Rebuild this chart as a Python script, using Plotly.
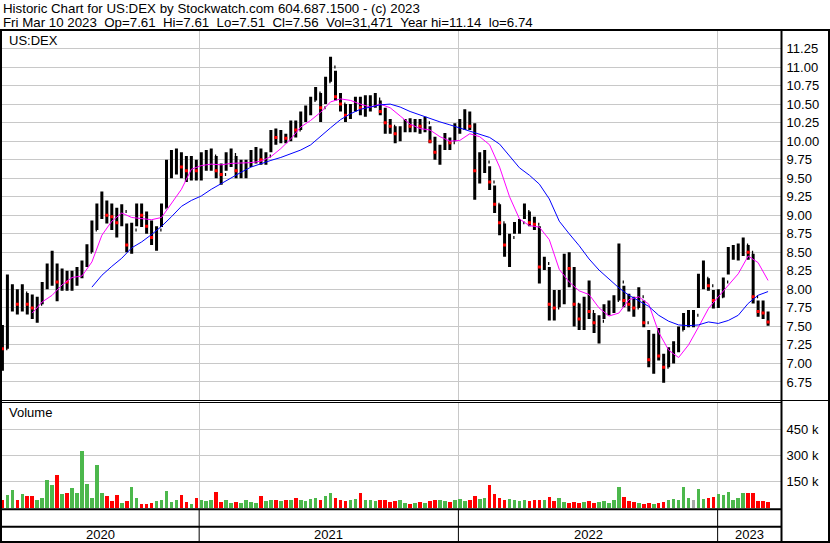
import plotly.graph_objects as go
import pandas as pd

W, H = 830, 543

# ---------------- data (weekly readings from the reference) ----------------
week_start = "2020-03-30"
n_weeks = 155
dates = pd.date_range(week_start, periods=n_weeks, freq="7D")

highs = [7.52, 8.20, 8.07, 8.00, 8.07, 7.95, 7.93, 7.90, 8.10, 8.35,
         8.52, 8.35, 8.28, 8.25, 8.25, 8.30, 8.39, 8.61, 8.93, 9.16,
         9.32, 9.20, 9.16, 9.10, 9.15, 8.89, 8.90, 9.16, 9.16, 9.05,
         8.93, 8.85, 9.16, 9.75, 9.88, 9.90, 9.85, 9.80, 9.80, 9.75,
         9.85, 9.88, 9.90, 9.80, 9.70, 9.85, 9.90, 9.80, 9.75, 9.75,
         9.88, 9.92, 9.90, 9.85, 10.15, 10.17, 10.15, 10.10, 10.28, 10.28,
         10.40, 10.48, 10.60, 10.73, 10.65, 10.87, 11.14, 10.95, 10.65, 10.50,
         10.50, 10.60, 10.60, 10.62, 10.62, 10.65, 10.55, 10.45, 10.30, 10.20,
         10.20, 10.30, 10.31, 10.30, 10.30, 10.33, 10.20, 10.06, 9.95, 10.11,
         10.05, 10.24, 10.30, 10.43, 10.40, 10.24, 9.85, 9.88, 9.66, 9.40,
         9.15, 8.89, 8.75, 8.91, 8.95, 9.16, 9.05, 8.98, 8.85, 8.44,
         8.30, 7.99, 7.99, 8.48, 8.50, 8.30, 7.81, 7.90, 8.12, 7.68,
         7.65, 7.80, 7.85, 7.92, 8.62, 8.05, 7.94, 7.90, 8.03, 7.85,
         7.45, 7.40, 7.48, 7.13, 7.22, 7.30, 7.50, 7.68, 7.72, 7.72,
         8.21, 8.39, 8.15, 7.99, 8.00, 8.16, 8.57, 8.60, 8.62, 8.70,
         8.60, 8.48, 7.85, 7.85, 7.70]

lows = [6.90, 7.20, 7.70, 7.66, 7.70, 7.66, 7.60, 7.55, 7.80, 8.00,
        8.05, 7.84, 7.98, 7.98, 7.98, 8.05, 8.15, 8.30, 8.50, 8.80,
        8.95, 8.89, 8.80, 8.70, 8.85, 8.50, 8.48, 8.85, 8.84, 8.75,
        8.60, 8.52, 8.84, 9.10, 9.50, 9.55, 9.50, 9.45, 9.47, 9.47,
        9.47, 9.60, 9.60, 9.50, 9.41, 9.60, 9.65, 9.50, 9.50, 9.50,
        9.65, 9.70, 9.68, 9.68, 9.85, 9.95, 9.97, 9.97, 10.00, 10.05,
        10.15, 10.26, 10.35, 10.55, 10.26, 10.50, 10.80, 10.55, 10.40, 10.26,
        10.30, 10.40, 10.35, 10.33, 10.40, 10.45, 10.35, 10.10, 10.10, 9.97,
        10.00, 10.12, 10.12, 10.12, 10.10, 10.12, 9.97, 9.75, 9.68, 9.88,
        9.88, 10.00, 10.10, 10.15, 10.15, 9.21, 9.43, 9.57, 9.34, 9.03,
        8.73, 8.44, 8.30, 8.75, 8.75, 8.95, 8.85, 8.80, 8.08, 8.26,
        7.58, 7.58, 7.76, 7.80, 8.03, 7.50, 7.45, 7.45, 7.60, 7.41,
        7.27, 7.60, 7.65, 7.68, 7.85, 7.76, 7.70, 7.63, 7.75, 7.49,
        6.95, 6.86, 7.04, 6.74, 6.95, 7.00, 7.15, 7.45, 7.49, 7.49,
        7.75, 8.00, 7.98, 7.74, 7.75, 7.89, 8.20, 8.40, 8.39, 8.45,
        8.40, 7.81, 7.63, 7.60, 7.51]

closes = [7.20, 7.90, 7.92, 7.80, 7.95, 7.80, 7.75, 7.80, 8.05, 8.25,
          8.30, 8.10, 8.15, 8.10, 8.15, 8.25, 8.35, 8.50, 8.80, 9.05,
          9.10, 9.00, 8.98, 8.90, 9.05, 8.60, 8.80, 9.05, 9.00, 8.85,
          8.70, 8.80, 9.10, 9.60, 9.70, 9.75, 9.65, 9.60, 9.65, 9.60,
          9.70, 9.75, 9.80, 9.60, 9.55, 9.80, 9.82, 9.60, 9.65, 9.70,
          9.80, 9.85, 9.75, 9.80, 10.10, 10.05, 10.08, 10.04, 10.20, 10.15,
          10.35, 10.40, 10.55, 10.65, 10.45, 10.80, 11.00, 10.60, 10.50, 10.35,
          10.45, 10.50, 10.45, 10.50, 10.55, 10.57, 10.40, 10.25, 10.20, 10.10,
          10.15, 10.25, 10.20, 10.25, 10.20, 10.25, 10.00, 9.85, 9.90, 10.00,
          9.98, 10.15, 10.25, 10.35, 10.20, 9.60, 9.70, 9.72, 9.45, 9.15,
          8.90, 8.60, 8.70, 8.85, 8.90, 9.05, 8.90, 8.88, 8.30, 8.35,
          7.80, 7.75, 7.90, 8.30, 8.28, 7.80, 7.60, 7.80, 7.70, 7.55,
          7.57, 7.70, 7.80, 7.85, 8.10, 7.85, 7.80, 7.75, 7.90, 7.55,
          7.05, 7.25, 7.10, 6.95, 7.10, 7.20, 7.45, 7.60, 7.65, 7.65,
          8.10, 8.15, 8.05, 7.85, 7.90, 8.10, 8.50, 8.52, 8.55, 8.60,
          8.50, 7.90, 7.70, 7.68, 7.56]

first_open = 7.35

volumes_k = [50, 74, 105, 45, 80, 70, 72, 45, 60, 160,
             131, 188, 80, 90, 116, 85, 326, 141, 60, 246,
             90, 72, 40, 75, 30, 40, 122, 60, 25, 22,
             30, 40, 45, 97, 35, 45, 75, 35, 25, 60,
             45, 40, 45, 92, 35, 45, 30, 35, 30, 45,
             35, 30, 72, 40, 50, 45, 40, 50, 45, 60,
             50, 40, 55, 60, 45, 70, 85, 60, 50, 40,
             45, 55, 90, 50, 45, 40, 50, 45, 35, 40,
             45, 30, 25, 30, 35, 30, 40, 45, 50, 40,
             35, 45, 55, 40, 50, 70, 55, 60, 135, 80,
             60, 50, 55, 45, 40, 50, 40, 45, 50, 45,
             65, 40, 60, 35, 30, 35, 30, 35, 40, 30,
             35, 40, 30, 45, 120, 65, 40, 35, 30, 25,
             30, 25, 30, 35, 45, 55, 50, 120, 60, 50,
             112, 55, 60, 65, 80, 75, 93, 50, 60, 90,
             90, 90, 40, 40, 35]

# moving averages read every second week
ma_short_dates = dates[6::2]
ma_short = [7.68, 7.83, 7.92, 8.06, 8.16, 8.18, 8.37, 8.73, 8.92, 9.03,
            8.97, 8.96, 8.94, 8.97, 9.16, 9.35, 9.62, 9.67, 9.69, 9.68,
            9.70, 9.70, 9.71, 9.73, 9.79, 9.90, 10.03, 10.19, 10.28, 10.39,
            10.53, 10.57, 10.55, 10.50, 10.46, 10.50, 10.45,
            10.34, 10.23, 10.17, 10.15, 10.06, 10.00, 10.01, 10.10, 10.06, 9.95,
            9.65, 9.25, 8.95, 8.86, 8.84, 8.67, 8.27, 8.10, 7.98, 7.93,
            7.75, 7.64, 7.68, 7.86, 7.90, 7.80, 7.42, 7.18, 7.08, 7.25,
            7.49, 7.74, 7.90, 8.06, 8.21, 8.45, 8.36, 8.12]

ma_long_dates = dates[18::2]
ma_long = [8.03, 8.19, 8.31, 8.42, 8.56, 8.64, 8.74, 8.85, 8.98, 9.12,
           9.20, 9.26, 9.35, 9.43, 9.51, 9.58, 9.65, 9.70, 9.74, 9.78,
           9.83, 9.88, 9.95, 10.07, 10.18, 10.29, 10.37, 10.43, 10.46, 10.49,
           10.50,
           10.46, 10.40, 10.35, 10.31, 10.26, 10.22, 10.18, 10.14, 10.10, 10.05,
           9.96, 9.80, 9.64, 9.54, 9.42, 9.22, 8.92, 8.75, 8.59, 8.41,
           8.26, 8.14, 8.02, 7.92, 7.84, 7.77, 7.65, 7.57, 7.52, 7.51,
           7.52, 7.56, 7.54, 7.58, 7.65, 7.81, 7.92, 7.97]

price_ticks = [6.75, 7.00, 7.25, 7.50, 7.75, 8.00, 8.25, 8.50, 8.75, 9.00,
               9.25, 9.50, 9.75, 10.00, 10.25, 10.50, 10.75, 11.00, 11.25]
volume_ticks = [150000, 300000, 450000]
volume_tick_labels = ["150 k", "300 k", "450 k"]
year_starts = ["2021-01-01", "2022-01-01", "2023-01-01"]
year_labels = ["2020", "2021", "2022", "2023"]

header_1 = "Historic Chart for US:DEX by Stockwatch.com 604.687.1500 - (c) 2023"
header_2 = ("Fri Mar 10 2023\u00a0\u00a0Op=7.61\u00a0\u00a0Hi=7.61\u00a0\u00a0Lo=7.51\u00a0\u00a0"
            "Cl=7.56\u00a0\u00a0Vol=31,471\u00a0\u00a0Year hi=11.14\u00a0\u00a0lo=6.74")

# ---------------- derived ----------------
opens = [first_open] + closes[:-1]
volumes = [v * 1000 for v in volumes_k]
vol_colors = []
for o, c in zip(opens, closes):
    if c > o:
        vol_colors.append("#4cb84c")
    elif c < o:
        vol_colors.append("#ff0000")
    else:
        vol_colors.append("#a8a8a8")
down_dates = [d for d, o, c in zip(dates, opens, closes) if c < o]
down_close = [c for o, c in zip(opens, closes) if c < o]

# ---------------- layout helpers ----------------
def px(x):
    return x / W

def py(y):
    return 1 - y / H

x_start = pd.Timestamp("2020-03-29 09:36")
x_end = pd.Timestamp("2023-03-31 05:00")
FONT = "Liberation Sans, Arial, sans-serif"
GRID = "#c8c8c8"

fig = go.Figure()

fig.add_trace(go.Bar(
    x=dates, y=volumes, marker=dict(color=vol_colors, line=dict(width=0)),
    width=0.72 * 7 * 86400000, xaxis="x2", yaxis="y2", hoverinfo="skip"))

fig.add_trace(go.Ohlc(
    x=dates, open=opens, high=highs, low=lows, close=closes,
    increasing=dict(line=dict(color="black", width=3)),
    decreasing=dict(line=dict(color="black", width=3)),
    tickwidth=0.25, xaxis="x", yaxis="y", hoverinfo="skip"))

fig.add_trace(go.Scatter(
    x=down_dates, y=down_close, mode="markers",
    marker=dict(symbol="square", size=3, color="#ff0000", line=dict(width=0)),
    xaxis="x", yaxis="y", hoverinfo="skip"))

fig.add_trace(go.Scatter(
    x=ma_short_dates, y=ma_short, mode="lines",
    line=dict(color="#ff00ff", width=1), xaxis="x", yaxis="y", hoverinfo="skip"))

fig.add_trace(go.Scatter(
    x=ma_long_dates, y=ma_long, mode="lines",
    line=dict(color="#0000ff", width=1), xaxis="x", yaxis="y", hoverinfo="skip"))

xcommon = dict(
    domain=[px(2), px(781)], range=[x_start, x_end], type="date",
    showticklabels=False, tickvals=year_starts, ticks="",
    showgrid=True, gridcolor=GRID, gridwidth=1, zeroline=False, showline=False,
)

shapes = []
def hline(y, x0, x1, w):
    shapes.append(dict(type="line", xref="paper", yref="paper",
                       x0=px(x0), x1=px(x1), y0=py(y), y1=py(y),
                       line=dict(color="black", width=w)))

def vline(x, y0, y1, w):
    shapes.append(dict(type="line", xref="paper", yref="paper",
                       x0=px(x), x1=px(x), y0=py(y0), y1=py(y1),
                       line=dict(color="black", width=w)))

hline(30, 0, 830, 2)
vline(1, 30, 543, 2)
vline(781.5, 30, 543, 2)
vline(829, 30, 543, 2)
hline(400.5, 0, 830, 1)
hline(402.5, 0, 781, 1)
hline(509.3, 0, 781, 2)
hline(526.8, 0, 781, 2)
hline(542, 0, 830, 2)
for ys in year_starts:
    shapes.append(dict(type="line", xref="x", yref="paper", x0=ys, x1=ys,
                       y0=py(509), y1=py(541), line=dict(color="black", width=1)))

annotations = []
def text(x, y, s, anchor="left", size=13):
    annotations.append(dict(x=x, y=y, xref="paper", yref="paper", text=s,
                            showarrow=False, xanchor=anchor, yanchor="middle",
                            borderpad=0, font=dict(family=FONT, size=size, color="black")))

text(px(2), py(8.3), header_1, size=13.3)
text(px(2), py(22.3), header_2, size=13.3)
text(px(8), py(40.5), "US:DEX")
text(px(8), py(413), "Volume")

bounds = [x_start] + [pd.Timestamp(s) for s in year_starts] + [x_end]
for i, lab in enumerate(year_labels):
    mid = bounds[i] + (bounds[i + 1] - bounds[i]) / 2
    annotations.append(dict(x=mid, y=py(534.5), xref="x", yref="paper", text=lab,
                            showarrow=False, xanchor="center", yanchor="middle",
                            font=dict(family=FONT, size=13, color="black")))

fig.update_layout(
    width=W, height=H, margin=dict(l=0, r=0, t=0, b=0),
    paper_bgcolor="white", plot_bgcolor="white", showlegend=False,
    bargap=0,
    xaxis=dict(**xcommon, anchor="y", rangeslider=dict(visible=False)),
    xaxis2=dict(**xcommon, anchor="y2", matches="x"),
    yaxis=dict(domain=[py(400.5), py(30)], range=[6.5, 11.5], side="right",
               tickvals=price_ticks, ticktext=[f"{v:.2f}" for v in price_ticks],
               ticks="outside", ticklen=2, tickcolor="rgba(0,0,0,0)",
               tickfont=dict(family=FONT, size=13, color="black"),
               showgrid=True, gridcolor=GRID, gridwidth=1, zeroline=False,
               showline=False, anchor="x"),
    yaxis2=dict(domain=[py(509.3), py(402.5)], range=[-9000, 603000], side="right",
                tickvals=volume_ticks, ticktext=volume_tick_labels,
                ticks="outside", ticklen=2, tickcolor="rgba(0,0,0,0)",
                tickfont=dict(family=FONT, size=13, color="black"),
                showgrid=True, gridcolor=GRID, gridwidth=1, zeroline=False,
                showline=False, anchor="x2"),
    shapes=shapes, annotations=annotations,
)

fig.write_html(
    "out.html",
    config={"displayModeBar": False},
    post_script="document.body.style.margin='0';document.body.style.overflow='hidden';",
)
